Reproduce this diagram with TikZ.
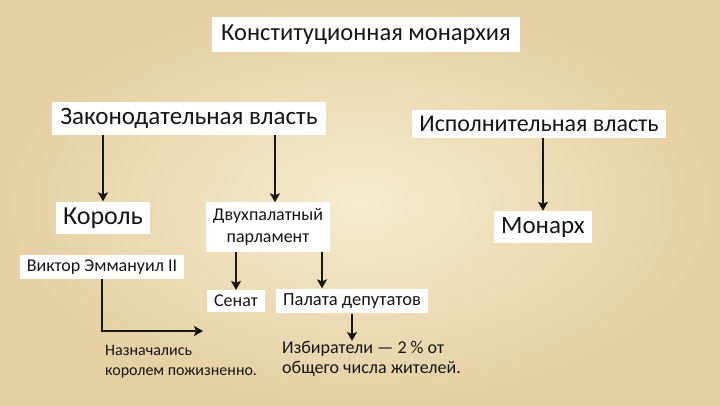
\documentclass[tikz,border=0pt]{standalone}
\usepackage{fontspec}
\setmainfont{Carlito}
\usetikzlibrary{arrows.meta,calc,positioning}
\definecolor{Parch}{HTML}{F5EBCE}
\definecolor{ParchEdge}{HTML}{E6D0A3}
\definecolor{Ink}{HTML}{161616}

\begin{document}
\begin{tikzpicture}[x=1pt,y=-1pt,
  box/.style={fill=white,text=Ink,inner xsep=7pt,inner ysep=6pt},
  arr/.style={-{Stealth[length=9pt,width=10pt,inset=2pt]},line width=2.7pt,Ink},
  note/.style={text=Ink,align=left,anchor=north west,inner sep=0pt}]
  \shade[inner color=Parch,outer color=ParchEdge] (0,0) rectangle (720,405);
  \useasboundingbox (0,0) rectangle (720,405);

  % boxes
  \node[box,inner xsep=9pt,inner ysep=8pt,font=\fontsize{24.5}{28}\selectfont] (monarchy) at (366,34.5) {Конституционная монархия};
  \node[box,inner xsep=8pt,font=\fontsize{25}{29}\selectfont] (zak) at (189,118.5) {Законодательная власть};
  \node[box,font=\fontsize{24}{28}\selectfont] (isp) at (539,124) {Исполнительная власть};
  \node[box,font=\fontsize{26}{30}\selectfont] (kor) at (103,218) {Король};
  \node[box,align=center,font=\fontsize{18}{22}\selectfont] (parl) at (268,227) {Двухпалатный\\парламент};
  \node[box,font=\fontsize{25}{29}\selectfont] (mon) at (543,227) {Монарх};
  \node[box,inner ysep=5pt,font=\fontsize{18}{21}\selectfont] (vik) at (102,267) {Виктор Эммануил II};
  \node[box,inner ysep=5pt,font=\fontsize{18}{21}\selectfont] (sen) at (236,301) {Сенат};
  \node[box,inner ysep=5pt,font=\fontsize{18.5}{21}\selectfont] (pal) at (352,301) {Палата депутатов};
  \node[note,font=\fontsize{16}{20}\selectfont] (naz) at (105,345) {Назначались\\королем пожизненно.};
  \node[note,font=\fontsize{18}{20}\selectfont] (izb) at (282,341) {Избиратели — 2 \% от\\общего числа жителей.};

  % arrows
  \coordinate (parlR) at ($(parl.south)+(54,0)$);
  \coordinate (vend) at (203,331);
  \draw[arr] (zak.south -| kor.north) -- (kor.north);
  \draw[arr] ($(zak.south -| parl.north)+(7,0)$) -- ($(parl.north)+(7,0)$);
  \draw[arr] (isp.south -| mon.north) -- (mon.north);
  \draw[arr] (parl.south -| sen.north) -- (sen.north);
  \draw[arr] (parlR) -- (parlR |- pal.north);
  \draw[arr] (vik.south) |- (vend);
  \draw[arr] (pal.south) -- (pal.south |- izb.north);
\end{tikzpicture}
\end{document}
